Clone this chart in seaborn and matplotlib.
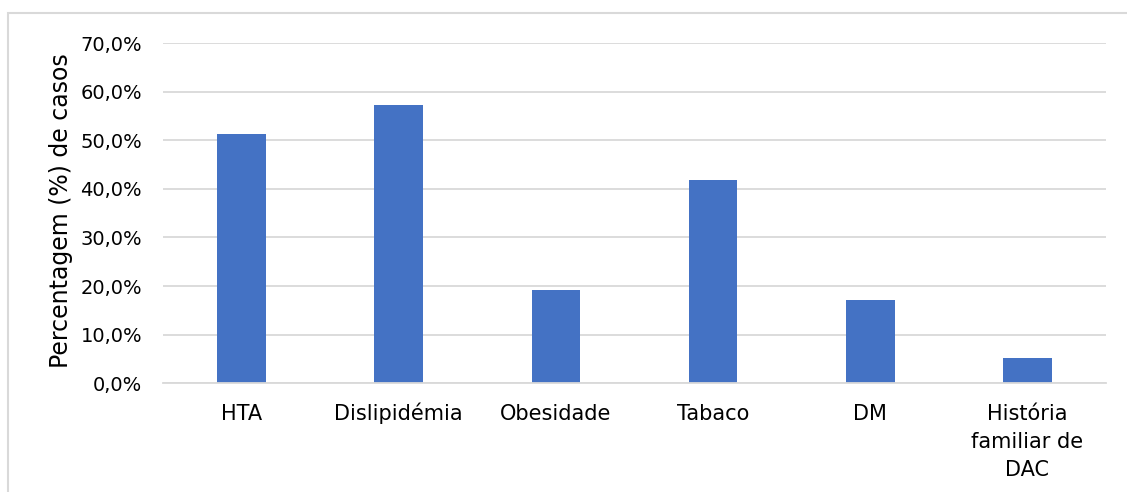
import numpy as np
import pandas as pd
import seaborn as sns
import matplotlib.pyplot as plt
from matplotlib.patches import Rectangle
from matplotlib.ticker import FuncFormatter, MultipleLocator

sns.set_theme(style="white")
plt.rcParams['font.family'] = ['DejaVu Sans']

# Fatores de risco e percentagem de casos
fatores = ["HTA", "Dislipidémia", "Obesidade", "Tabaco", "DM", "História\nfamiliar de\nDAC"]
percentagem = [51.2, 57.3, 19.2, 41.9, 17.1, 5.3]

df = pd.DataFrame({"fator": fatores, "pct": percentagem})

fig = plt.figure(figsize=(11.27, 4.92), dpi=100)
ax = fig.add_axes([0.1446, 0.2209, 0.8368, 0.6917])

sns.barplot(data=df, x="fator", y="pct", color="#4472C4", saturation=1,
            width=0.31, linewidth=0, ax=ax)

ax.set_ylim(0, 70)
ax.yaxis.set_major_locator(MultipleLocator(10))
ax.yaxis.set_major_formatter(FuncFormatter(lambda v, p: f"{v:.1f}%".replace(".", ",")))
ax.grid(axis="y", color="#D9D9D9", linewidth=1.3)
ax.set_axisbelow(True)
for s in ["top", "right", "left"]:
    ax.spines[s].set_visible(False)
ax.spines["bottom"].set_color("#D9D9D9")
ax.spines["bottom"].set_linewidth(1.3)
ax.set_xlim(-0.5, len(fatores) - 0.5)

ax.tick_params(axis="y", length=0, pad=15, labelsize=14, labelcolor="black")
ax.tick_params(axis="x", length=0, labelbottom=False)

# Rótulos do eixo x, alinhados pela linha de base (uma linha de cada vez)
for i, nome in enumerate(fatores):
    for k, linha in enumerate(nome.split("\n")):
        ax.annotate(linha, xy=(i, 0), xycoords=("data", "axes fraction"),
                    xytext=(0, -26.6 - k * 20.2), textcoords="offset points",
                    ha="center", va="baseline", fontsize=15, color="black")

ax.set_xlabel("")
ax.set_ylabel("Percentagem (%) de casos", fontsize=17, color="black")
ax.yaxis.set_label_coords(-0.0955, 0.506)

# Moldura do gráfico
fig.patches.append(Rectangle((8 / 1127, -0.1), 1.2, (492 - 13) / 492 + 0.1,
                             transform=fig.transFigure, fill=False,
                             edgecolor="#D9D9D9", linewidth=1.5))

fig.savefig("out.png", dpi=100)
